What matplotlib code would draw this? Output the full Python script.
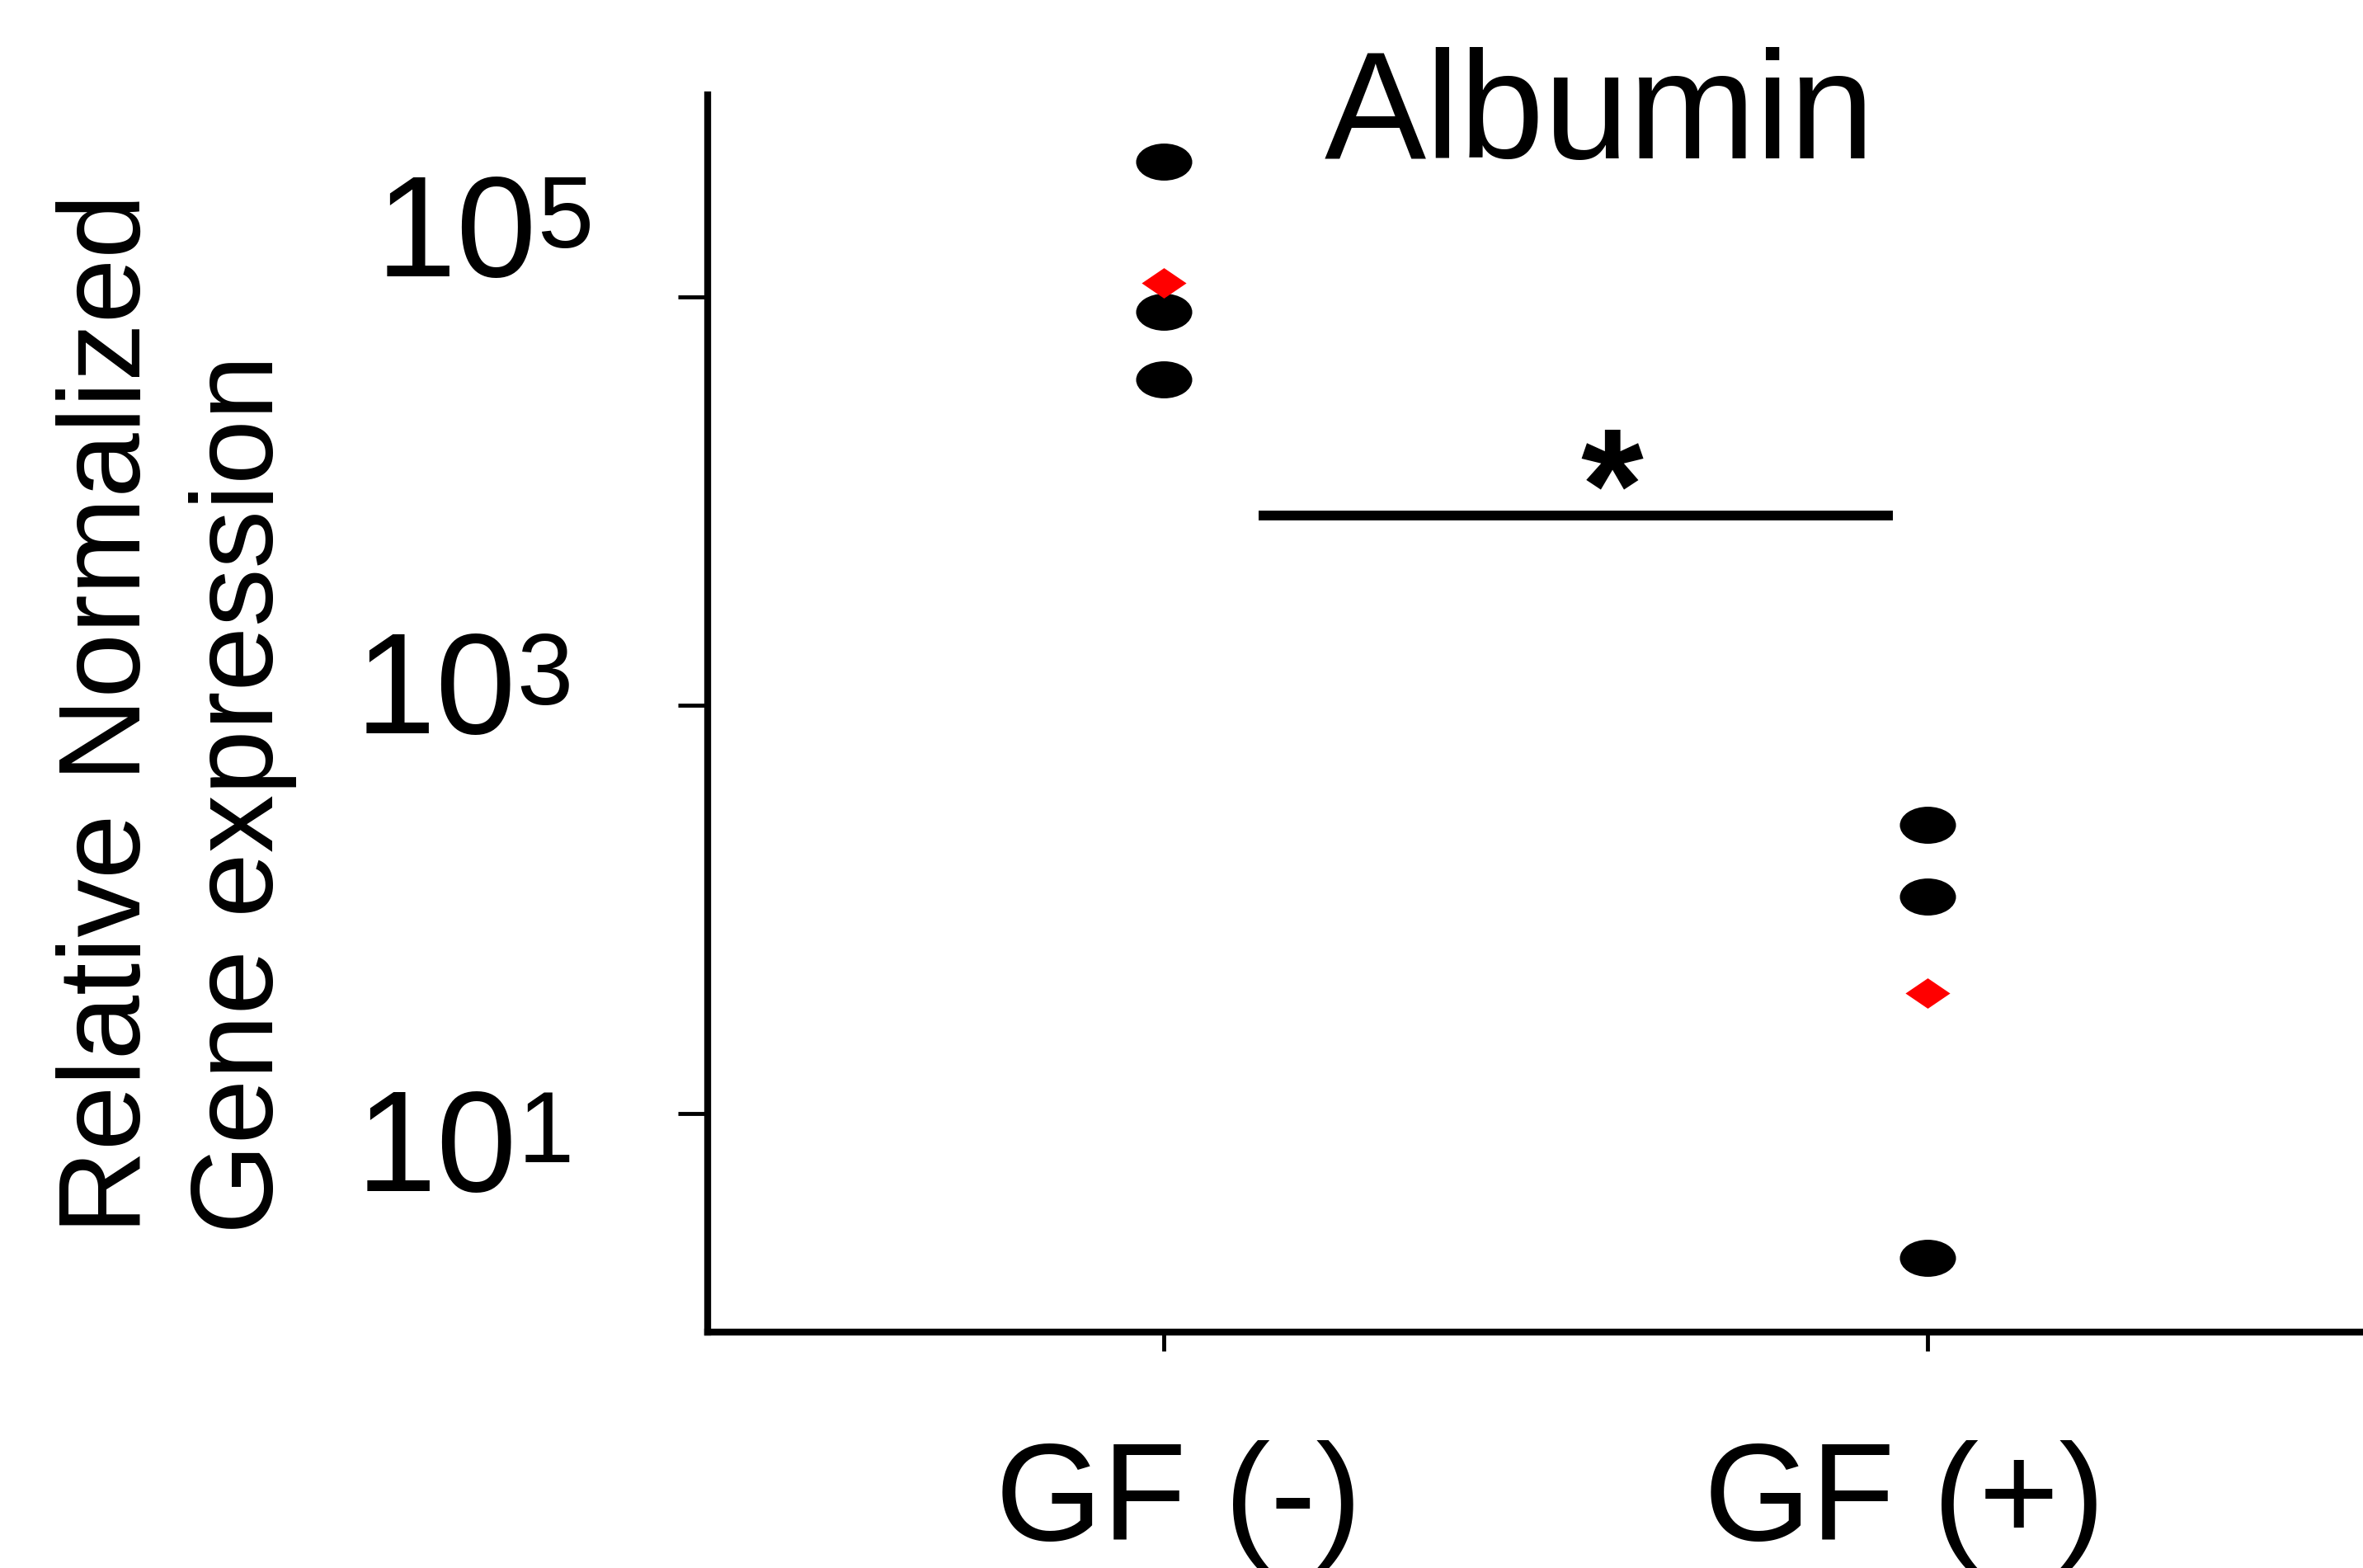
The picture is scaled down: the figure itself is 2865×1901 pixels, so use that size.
import numpy as np
import matplotlib
matplotlib.use("Agg")
import matplotlib.pyplot as plt
from matplotlib.path import Path
from matplotlib.transforms import Affine2D, ScaledTranslation
from matplotlib.ticker import FixedLocator, NullLocator, LogFormatterMathtext

# data
groups = ["GF (-)", "GF (+)"]
gf_minus = [4.6e5, 8.5e4, 3.95e4]
gf_plus = [259, 116, 1.96]
group_means = [1.17e5, 38.9]
sig_level = 8.5e3
sig_text = "*"
title = "Albumin"
ylabel = "Relative Normalized\nGene expression"
yticks = [1e1, 1e3, 1e5]

plt.rcParams["font.family"] = ["Liberation Sans", "DejaVu Sans"]
plt.rcParams["mathtext.fontset"] = "custom"
plt.rcParams["mathtext.rm"] = "Liberation Sans"
plt.rcParams["mathtext.default"] = "regular"

# exponent in the reference sits level with the top of the digits
try:
    import matplotlib._mathtext as _mt
    _mt.FontConstantsBase.sup1 = 0.38
except Exception:
    pass

fig = plt.figure(figsize=(28.65, 19.01), dpi=100)
ax = fig.add_axes([0.2995, 0.1504, 0.7005, 0.7891])

# flattened markers: ellipse dots and a squat diamond
ellipse = Path.unit_circle().transformed(Affine2D().scale(1.0, 0.66))
diamond = Path([(-1, 0), (0, 0.68), (1, 0), (0, -0.68), (-1, 0)],
               [Path.MOVETO, Path.LINETO, Path.LINETO, Path.LINETO, Path.CLOSEPOLY])

for i, vals in enumerate([gf_minus, gf_plus]):
    ax.plot([i] * len(vals), vals, ls="none", marker=ellipse, ms=49,
            color="black", mec="none", zorder=3)
ax.plot(range(len(groups)), group_means, ls="none", marker=diamond, ms=39,
        color="#ff0000", mec="none", zorder=4)

# significance bar
ax.plot([0.124, 0.954], [sig_level, sig_level], color="black", lw=8.5, solid_capstyle="butt")
ax.annotate(sig_text, xy=(0.539, sig_level), xytext=(32, -21), textcoords="offset points",
            ha="center", va="baseline", fontsize=140, fontweight="bold")

ax.set_yscale("log")
ax.set_ylim(10 ** -0.071, 10 ** 5.99)
ax.set_xlim(-0.597, 1.570)
ax.yaxis.set_major_locator(FixedLocator(yticks))
ax.yaxis.set_minor_locator(NullLocator())
ax.yaxis.set_major_formatter(LogFormatterMathtext())
ax.set_xticks(range(len(groups)))
ax.set_xticklabels(groups)

for s in ["top", "right"]:
    ax.spines[s].set_visible(False)
for s in ["left", "bottom"]:
    ax.spines[s].set_linewidth(6)

ax.tick_params(axis="y", length=26, width=3.5, pad=84, labelsize=126)
ax.tick_params(axis="x", length=16.5, width=3.5, pad=165, labelsize=120)

# labels in the reference sit off their ticks, nudge each one
ydx = [-10, -10, 8]
ydy = [-68, -24.5, 18]
for lab, dx, dy in zip(ax.get_yticklabels(), ydx, ydy):
    lab.set_va("baseline")
    lab.set_transform(lab.get_transform() + ScaledTranslation(dx / 72, dy / 72, fig.dpi_scale_trans))
xdx = [13, -20]
for lab, dx in zip(ax.get_xticklabels(), xdx):
    lab.set_va("baseline")
    lab.set_transform(lab.get_transform() + ScaledTranslation(dx / 72, 0, fig.dpi_scale_trans))

ax.set_ylabel(ylabel, fontsize=101.5, linespacing=1.3, multialignment="left")
ax.yaxis.set_label_coords(-0.248, 0.5)

ax.text(0.539, 0.9487, title, transform=ax.transAxes, ha="center", va="baseline", fontsize=133)

fig.savefig("out.png", dpi=100)
